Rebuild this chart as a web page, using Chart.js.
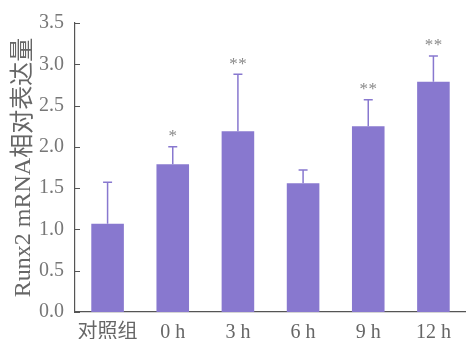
<!DOCTYPE html>
<html><head><meta charset="utf-8">
<script src="https://cdn.jsdelivr.net/npm/chart.js@4/dist/chart.umd.min.js"></script>
<style>html,body{margin:0;padding:0;background:#fff}#wrap{width:466px;height:339px}</style>
</head><body><div id="wrap"><canvas id="c" width="466" height="339"></canvas></div>
<script>
const categories = ["对照组", "0 h", "3 h", "6 h", "9 h", "12 h"];
const values = [1.07, 1.79, 2.19, 1.56, 2.25, 2.79];
const errorTops = [1.57, 2.00, 2.88, 1.72, 2.57, 3.10];
const significance = ["", "*", "**", "", "**", "**"];
const yTicks = [0, 0.5, 1.0, 1.5, 2.0, 2.5, 3.0, 3.5];

const BAR = '#8878cf';
const serif = '"Liberation Serif", "Noto Sans CJK SC", serif';

const extras = {
  id: 'extras',
  afterDatasetsDraw(chart) {
    const ctx = chart.ctx, x = chart.scales.x, y = chart.scales.y;
    ctx.save();
    ctx.strokeStyle = '#555'; ctx.lineWidth = 1;
    yTicks.forEach(v => {
      const py = Math.round(y.getPixelForValue(v)) + 0.5;
      ctx.beginPath(); ctx.moveTo(x.left, py); ctx.lineTo(x.left + 5, py); ctx.stroke();
    });
    ctx.strokeStyle = BAR; ctx.lineWidth = 1.5;
    values.forEach((v, i) => {
      const px = x.getPixelForValue(i);
      const y0 = y.getPixelForValue(v), y1 = y.getPixelForValue(errorTops[i]);
      ctx.beginPath(); ctx.moveTo(px, y0); ctx.lineTo(px, y1);
      ctx.moveTo(px - 4.5, y1); ctx.lineTo(px + 4.5, y1); ctx.stroke();
      const s = significance[i];
      if (s) {
        ctx.fillStyle = '#888'; ctx.font = '17px ' + serif;
        ctx.textAlign = 'center'; ctx.textBaseline = 'middle';
        const gap = 9;
        for (let k = 0; k < s.length; k++) {
          const off = (k - (s.length - 1) / 2) * gap;
          ctx.fillText('*', px + off, y1 - 10);
        }
      }
    });
    ctx.restore();
  }
};

new Chart(document.getElementById('c'), {
  type: 'bar',
  data: { labels: categories, datasets: [{ data: values, backgroundColor: BAR, borderWidth: 0, barPercentage: 0.5, categoryPercentage: 1 }] },
  options: {
    responsive: false, animation: false, devicePixelRatio: 1,
    layout: { padding: { top: 21, right: 0, left: 0, bottom: 0 } },
    plugins: { legend: { display: false }, tooltip: { enabled: false } },
    scales: {
      x: {
        grid: { display: false, drawTicks: false },
        border: { display: true, color: '#555', width: 1.2 },
        ticks: { color: '#666', font: { family: serif, size: 20 }, padding: 9, maxRotation: 0, autoSkip: false },
        afterFit(s) { s.height = 27; }
      },
      y: {
        min: 0, max: 3.5,
        grid: { display: false, drawTicks: false },
        border: { display: true, color: '#555', width: 1.2 },
        afterBuildTicks(s) { s.ticks = yTicks.map(v => ({ value: v })); },
        ticks: { color: '#777', font: { family: serif, size: 20 }, padding: 11, callback: v => Number(v).toFixed(1) },
        title: { display: true, text: 'Runx2 mRNA相对表达量', color: '#666', font: { family: serif, size: 24 }, padding: { top: 9, bottom: 0 } },
        afterFit(s) { s.width = 75; }
      }
    }
  },
  plugins: [extras]
});
</script></body></html>
